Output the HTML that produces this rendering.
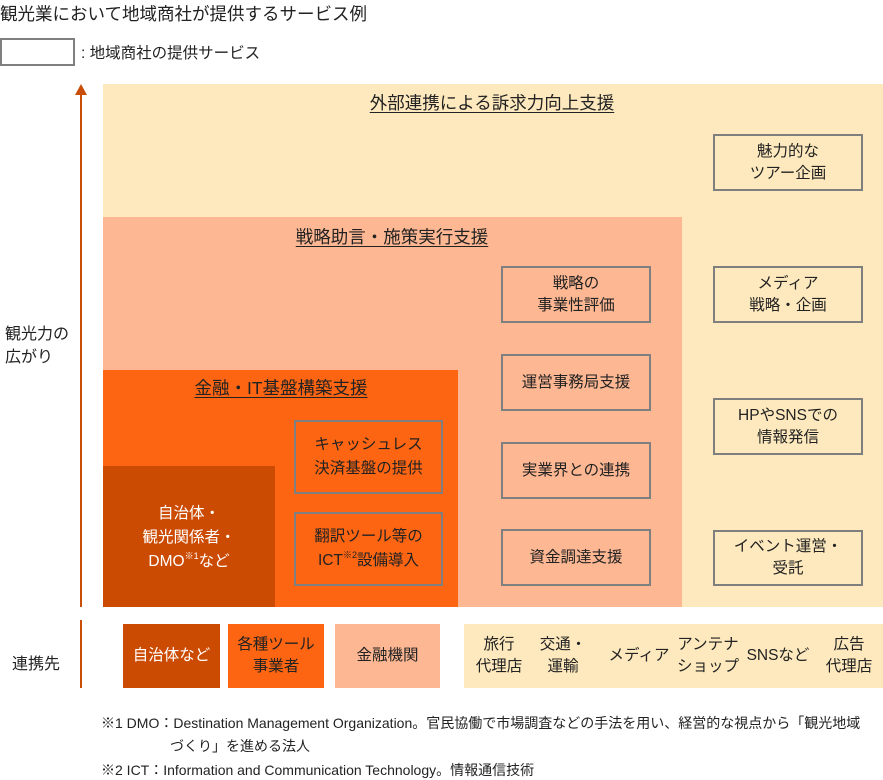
<!DOCTYPE html>
<html><head><meta charset="utf-8"><style>
*{margin:0;padding:0;box-sizing:border-box}
body{width:883px;height:777px;background:#fff;position:relative;overflow:hidden;font-family:"Liberation Sans","Noto Sans CJK JP",sans-serif;color:#222}
.a{position:absolute}
.box{position:absolute;border:2px solid #7f7f7f;display:flex;align-items:center;justify-content:center;text-align:center;font-size:15.5px;line-height:22px}
.hd{position:absolute;font-size:17.5px;text-decoration:underline;text-underline-offset:3px;white-space:nowrap;transform:translateX(-50%)}
.bt{position:absolute;top:624px;height:64px;display:flex;align-items:center;justify-content:center;text-align:center;font-size:15.5px;line-height:22px;white-space:nowrap}
.fn{position:absolute;font-size:14px;white-space:nowrap}
sup{font-size:9px;vertical-align:7px;line-height:0}
</style></head><body>
<div class="a" style="left:0;top:1px;font-size:17.5px">観光業において地域商社が提供するサービス例</div>
<div class="a" style="left:0;top:38px;width:75px;height:28px;border:2px solid #7f7f7f"></div>
<div class="a" style="left:81px;top:41px;font-size:15.5px">: 地域商社の提供サービス</div>
<div class="a" style="left:80px;top:93px;width:2px;height:514px;background:#c94f08"></div>
<div class="a" style="left:75px;top:84px;width:0;height:0;border-left:6px solid transparent;border-right:6px solid transparent;border-bottom:11px solid #c94f08"></div>
<div class="a" style="left:5px;top:323px;font-size:16px;line-height:23px">観光力の<br>広がり</div>

<div class="a" style="left:103px;top:84px;width:780px;height:523px;background:#fde9bd"></div>
<div class="a" style="left:103px;top:217px;width:579px;height:390px;background:#fdb792"></div>
<div class="a" style="left:103px;top:370px;width:355px;height:237px;background:#fd6513"></div>
<div class="a" style="left:103px;top:466px;width:172px;height:141px;background:#cc4b02"></div>

<div class="hd" style="left:492px;top:90px">外部連携による訴求力向上支援</div>
<div class="hd" style="left:392px;top:224px">戦略助言・施策実行支援</div>
<div class="hd" style="left:281px;top:375px">金融・IT基盤構築支援</div>

<div class="box" style="left:713px;top:134px;width:150px;height:57px"><div>魅力的な<br>ツアー企画</div></div>
<div class="box" style="left:713px;top:266px;width:150px;height:57px"><div>メディア<br>戦略・企画</div></div>
<div class="box" style="left:713px;top:398px;width:150px;height:57px"><div>HPやSNSでの<br>情報発信</div></div>
<div class="box" style="left:713px;top:530px;width:150px;height:56px"><div>イベント運営・<br>受託</div></div>

<div class="box" style="left:501px;top:266px;width:150px;height:57px"><div>戦略の<br>事業性評価</div></div>
<div class="box" style="left:501px;top:354px;width:150px;height:57px"><div>運営事務局支援</div></div>
<div class="box" style="left:501px;top:442px;width:150px;height:57px"><div>実業界との連携</div></div>
<div class="box" style="left:501px;top:529px;width:150px;height:57px"><div>資金調達支援</div></div>

<div class="box" style="left:294px;top:420px;width:149px;height:74px;line-height:24px"><div>キャッシュレス<br>決済基盤の提供</div></div>
<div class="box" style="left:294px;top:512px;width:149px;height:74px;line-height:24px"><div>翻訳ツール等の<br>ICT<sup>※2</sup>設備導入</div></div>
<div class="a" style="left:103px;top:502px;width:172px;text-align:center;color:#fff;font-size:15.5px;line-height:24px">自治体・<br>観光関係者・<br>DMO<sup>※1</sup>など</div>

<div class="a" style="left:12px;top:650px;font-size:16px">連携先</div>
<div class="a" style="left:80px;top:620px;width:2px;height:68px;background:#c94f08"></div>
<div class="bt" style="left:123px;width:97px;background:#cc4b02;color:#fff">自治体など</div>
<div class="bt" style="left:228px;width:96px;background:#fd6513">各種ツール<br>事業者</div>
<div class="bt" style="left:335px;width:105px;background:#fdb792">金融機関</div>
<div class="bt" style="left:464px;width:419px;background:#fde9bd"></div>
<div class="bt" style="left:470px;width:58px">旅行<br>代理店</div>
<div class="bt" style="left:540px;width:46px">交通・<br>運輸</div>
<div class="bt" style="left:606px;width:66px">メディア</div>
<div class="bt" style="left:672px;width:72px">アンテナ<br>ショップ</div>
<div class="bt" style="left:742px;width:72px">SNSなど</div>
<div class="bt" style="left:820px;width:58px">広告<br>代理店</div>

<div class="fn" style="left:101px;top:713px">※1 DMO：Destination Management Organization。官民協働で市場調査などの手法を用い、経営的な視点から「観光地域</div>
<div class="fn" style="left:170px;top:736px">づくり」を進める法人</div>
<div class="fn" style="left:101px;top:760px">※2 ICT：Information and Communication Technology。情報通信技術</div>
</body></html>
